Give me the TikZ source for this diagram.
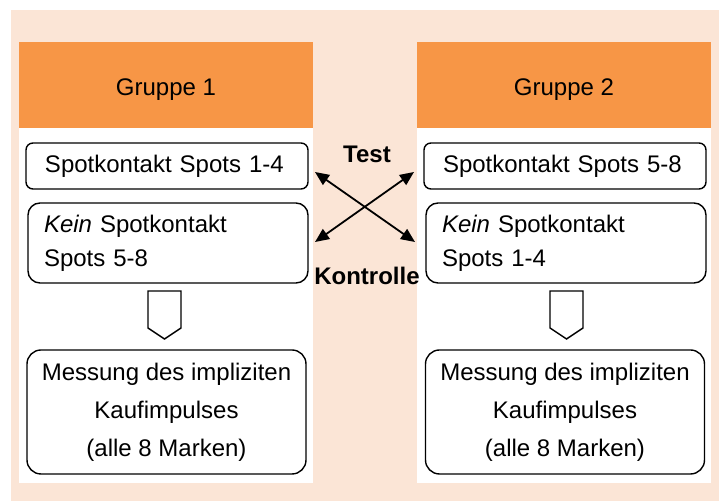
\documentclass[tikz,border=0pt]{standalone}
\usepackage{fontspec}
\setmainfont{Liberation Sans}
\usetikzlibrary{arrows.meta,positioning}
\definecolor{gruppeOrange}{HTML}{F79646}
\definecolor{gruppePeach}{HTML}{FBE5D6}

\begin{document}
\begin{tikzpicture}[x=0.5pt, y=-0.5pt,
    col/.style={rectangle, fill=white, minimum width=147pt, minimum height=220.5pt, inner sep=0pt},
    kopf/.style={rectangle, fill=gruppeOrange, minimum width=147pt, minimum height=43pt,
                 text height=11pt, text depth=0pt, font=\fontsize{12}{14}\selectfont},
    spot/.style={rectangle, rounded corners=3.5pt, draw=black, fill=white, line width=0.7pt,
                 minimum height=23pt, inner xsep=9.5pt, text width=122pt, align=left,
                 font=\fontsize{12}{14}\selectfont},
    kein/.style={rectangle, rounded corners=6pt, draw=black, fill=white, line width=0.7pt,
                 minimum height=40pt, inner xsep=8pt, text width=124pt, align=left,
                 font=\fontsize{12}{17}\selectfont},
    mess/.style={rectangle, rounded corners=7pt, draw=black, fill=white, line width=0.7pt,
                 minimum width=139.5pt, minimum height=62pt, align=center,
                 font=\fontsize{12}{19}\selectfont},
    blk/.style={draw=black, fill=white, line width=0.7pt, line join=miter},
    pfeil/.style={{Triangle[length=7pt,width=6pt]}-{Triangle[length=7pt,width=6pt]}, line width=0.9pt},
    lab/.style={font=\fontsize{12}{14}\selectfont\bfseries}
  ]
  \useasboundingbox (0,0) rectangle (719,501);
  \fill[gruppePeach] (11,10) rectangle (719,501);

  % Gruppe 1
  \node[col] (col1) at (166,262.5) {};
  \node[kopf] (kopf1) at (166,85) {Gruppe 1};
  \node[spot] (spot1) at (167,166) {Spotkontakt Spots 1-4};
  \node[kein] (kein1) at (168,243) {\textit{Kein} Spotkontakt\\Spots 5-8};
  \node[mess] (mess1) at (166.5,412) {Messung des impliziten\\Kaufimpulses\\(alle 8 Marken)};

  % Gruppe 2
  \node[col] (col2) at (564,262.5) {};
  \node[kopf] (kopf2) at (564,85) {Gruppe 2};
  \node[spot] (spot2) at (565,166) {Spotkontakt Spots 5-8};
  \node[kein] (kein2) at (566,243) {\textit{Kein} Spotkontakt\\Spots 1-4};
  \node[mess] (mess2) at (565,412) {Messung des impliziten\\Kaufimpulses\\(alle 8 Marken)};

  % Blockpfeile
  \foreach \x in {164.5,566.5}
    \draw[blk] (\x-16.5,291) -- (\x+16.5,291) -- (\x+16.5,328) -- (\x,339)
               -- (\x-16.5,328) -- cycle;

  % Kreuz
  \coordinate (t1) at (315,172);
  \coordinate (t2) at (414,172);
  \coordinate (k1) at (315,242);
  \coordinate (k2) at (415,242);
  \draw[pfeil] (t1) -- (k2);
  \draw[pfeil] (k1) -- (t2);
  \node[lab] (test) at (367,154) {Test};
  \node[lab] (kontrolle) at (367,276) {Kontrolle};
\end{tikzpicture}
\end{document}
